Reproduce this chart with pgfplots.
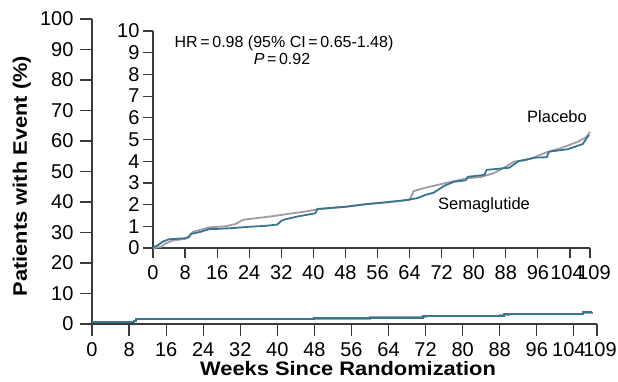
\documentclass[border=0pt]{standalone}
\usepackage{fontspec}
\setmainfont{Liberation Sans}
\newfontfamily\labelfont{Liberation Sans}[FakeStretch=1.12]
\usepackage{pgfplots}
\pgfplotsset{compat=1.18}
\definecolor{axgray}{HTML}{3A3A3A}
\definecolor{semablue}{HTML}{3A7590}
\definecolor{placgray}{HTML}{A09CA6}
\begin{document}
\begin{tikzpicture}[x=1pt,y=1pt]
\useasboundingbox (0,0) rectangle (618,381);
% main axis
\begin{axis}[
  at={(92pt,57pt)}, anchor=south west,
  scale only axis, width=505pt, height=305pt,
  xmin=0, xmax=109, ymin=0, ymax=100,
  axis x line=bottom, axis y line=left,
  axis line style={-, line width=1.3pt, color=axgray},
  every tick/.style={line width=1.2pt, color=axgray},
  tick align=outside, major tick length=12pt,
  xtick={0,8,...,104,109}, ytick={0,10,...,100},
  xticklabels={0,8,16,24,32,40,48,56,64,72,80,88,96,{104\kern10pt},{\kern6pt 109}},
  /pgf/number format/assume math mode=true,
  ticklabel style={font=\fontsize{20}{22}\selectfont, color=black},
  xticklabel style={yshift=-3pt},
  yticklabel style={xshift=-3pt},
  xlabel={Weeks Since Randomization},
  ylabel={Patients with Event (\%)},
  xlabel style={font=\labelfont\fontsize{19.5}{22}\selectfont\bfseries, at={(axis description cs:0.507,-0.1475)}, anchor=center},
  ylabel style={font=\labelfont\fontsize{19.5}{22}\selectfont\bfseries, at={(axis description cs:-0.139,0.485)}, anchor=center},
  clip=false,
]
\addplot[const plot, color=placgray, line width=2pt] coordinates {
(0,0.8) (9,0.9) (9.5,1.5) (30,1.6) (60,2.2) (72,2.5) (88,2.9) (90,3.2) (106,3.5) (108,3.9)};
\addplot[const plot, color=semablue, line width=2pt] coordinates {
(0,0.8) (9,0.9) (9.5,1.5) (48,1.9) (70,1.9) (71.5,2.6) (88,2.7) (89,3.3) (105,3.4) (106,3.8) (108,3.9)};
\end{axis}
% inset axis
\begin{axis}[
  at={(153pt,133pt)}, anchor=south west,
  scale only axis, width=437pt, height=217pt,
  xmin=0, xmax=109, ymin=0, ymax=10,
  axis x line=bottom, axis y line=left,
  axis line style={-, line width=1.3pt, color=axgray},
  every tick/.style={line width=1.2pt, color=axgray},
  tick align=outside, major tick length=10pt,
  xtick={0,8,...,104,109}, ytick={0,1,...,10},
  xticklabels={0,8,16,24,32,40,48,56,64,72,80,88,96,{104\kern6pt},{\kern8pt 109}},
  /pgf/number format/assume math mode=true,
  ticklabel style={font=\fontsize{20}{22}\selectfont, color=black},
  xticklabel style={yshift=-4pt},
  clip=false,
]
\addplot[color=placgray, line width=1.8pt] coordinates {
(0,0) (2,0.05) (3,0.2) (5,0.35) (8,0.42) (9,0.55) (10,0.75) (12,0.85) (14,0.95) (18,1.0) (20.5,1.1) (22.5,1.3) (26,1.38) (30,1.47) (34,1.58) (38,1.68) (41,1.78) (48,1.9) (55,2.05) (60,2.15) (64,2.22) (65,2.62) (68,2.78) (72,2.95) (75,3.08) (78,3.2) (82,3.28) (85,3.45) (88,3.75) (90,3.98) (93,4.05) (95,4.17) (98,4.4) (102,4.62) (106,4.9) (108,5.1) (109,5.35)};
\addplot[color=semablue, line width=1.8pt] coordinates {
(0,0.05) (1,0.1) (2.5,0.3) (4,0.4) (8,0.45) (9,0.5) (9.5,0.65) (12,0.75) (14,0.87) (16,0.88) (20,0.92) (24,0.98) (28,1.02) (31,1.08) (32,1.25) (33,1.32) (36,1.45) (39,1.55) (40.5,1.6) (41,1.8) (48,1.9) (53,2.02) (58,2.1) (62,2.18) (64.5,2.25) (66,2.3) (68,2.45) (70,2.55) (72.6,2.86) (75,3.05) (78,3.12) (78.5,3.28) (82.7,3.37) (83.2,3.6) (88.9,3.7) (91.1,4.0) (95.5,4.17) (98.2,4.18) (98.8,4.44) (103.4,4.55) (107.2,4.79) (108.4,5.13) (108.8,5.2)};
\end{axis}
\node[font=\fontsize{16}{18}\selectfont] at (284,338) {HR\,=\,0.98 (95\% CI\,=\,0.65-1.48)};
\node[font=\fontsize{16}{18}\selectfont] at (282,322) {\textit{P}\,=\,0.92};
\node[font=\fontsize{16.5}{19}\selectfont] at (557,264) {Placebo};
\node[font=\fontsize{16.5}{19}\selectfont] at (484,176) {Semaglutide};
\end{tikzpicture}
\end{document}
